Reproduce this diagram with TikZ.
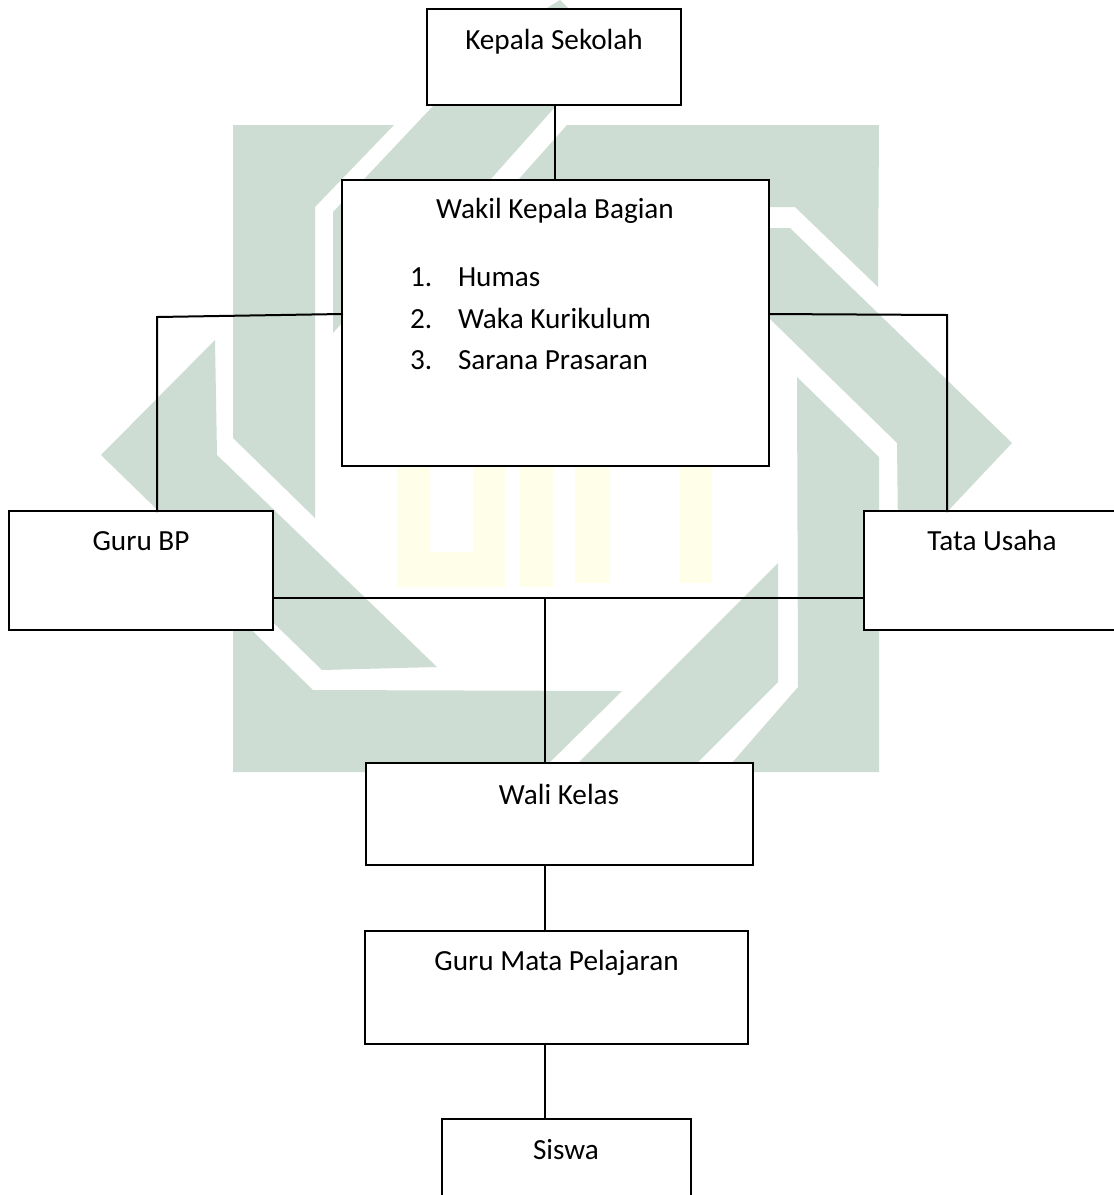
\documentclass[tikz,border=0pt]{standalone}
\usepackage{fontspec}
\setmainfont{Carlito}
\definecolor{wm}{HTML}{CDDDD4}
\definecolor{wmy}{HTML}{FFFEE8}
\tikzset{
  boxnode/.style={draw=black,fill=white,line width=2pt,outer sep=0pt,inner sep=0pt,anchor=north west},
  lbl/.style={anchor=base,inner sep=0pt,outer sep=0pt,font=\fontsize{29.2}{32}\selectfont,text=black},
  lblw/.style={anchor=base west,inner sep=0pt,outer sep=0pt,font=\fontsize{29.2}{32}\selectfont,text=black},
  conn/.style={draw=black,line width=2pt,line cap=rect},
  mark green/.style={fill=wm,draw=none},
  mark yellow/.style={fill=wmy,draw=none}
}
\begin{document}
\begin{tikzpicture}[x=1pt,y=-1pt]
\useasboundingbox (0,0) rectangle (1114,1195);
\fill[white] (0,0) rectangle (1114,1195);
% watermark
\path[mark green] (233,125)--(394,125)--(315,207)--(315,518)--(233,438)--cycle;
\path[mark green] (560,0)--(580,20)--(555,107)--(490,180)--(490,323)--(342,323)--(333,333)--(333,212)--(433,106)--(547,8)--cycle;
\path[mark green] (567,125)--(879,125)--(878,287)--(795,207)--(769,207)--(769,180)--(518,180)--cycle;
\path[mark green] (700,228)--(790,228)--(1012,443)--(930,530)--(898,530)--(897,443)--(769,318)--(700,318)--cycle;
\path[mark green] (797,377)--(879,457)--(879,772)--(724,772)--(798,687)--cycle;
\path[mark green] (778,563)--(778,682)--(688,772)--(569,772)--cycle;
\path[mark green] (101,455)--(215,340)--(217,455)--(437,667)--(322,670)--cycle;
\path[mark green] (233,612)--(313,690)--(622,691)--(540,772)--(233,772)--cycle;
\path[mark yellow] (397,466)--(430,466)--(430,552)--(473,552)--(473,466)--(505,466)--(505,587)--(397,587)--cycle;
\path[mark yellow] (520,466) rectangle (553,587);
\path[mark yellow] (575,466) rectangle (610,583);
\path[mark yellow] (680,466) rectangle (712,583);
% boxes
\node[boxnode,minimum width=254pt,minimum height=96pt] (kepala) at (427,9) {};
\node[boxnode,minimum width=427pt,minimum height=286pt] (wakil) at (342,180) {};
\node[boxnode,minimum width=264pt,minimum height=119pt] (guru) at (9,511) {};
\node[boxnode,minimum width=256pt,minimum height=119pt] (tata) at (864,511) {};
\node[boxnode,minimum width=387pt,minimum height=102pt] (wali) at (366,763) {};
\node[boxnode,minimum width=383pt,minimum height=113pt] (mata) at (365,931) {};
\node[boxnode,minimum width=249pt,minimum height=100pt] (siswa) at (442,1119) {};
% helper points
\coordinate (ktrunk) at (555,105);
\coordinate (lsplit) at (342,314);
\coordinate (lbend) at (157,317);
\coordinate (rsplit) at (769,314);
\coordinate (rbend) at (947,315);
\coordinate (bus) at (545,598);
% connectors
\draw[conn] (ktrunk |- kepala.south) -- (ktrunk |- wakil.north);
\draw[conn] (lsplit) -- (lbend) -- (lbend |- guru.north);
\draw[conn] (rsplit) -- (rbend) -- (rbend |- tata.north);
\draw[conn] (guru.east |- bus) -- (tata.west |- bus);
\draw[conn] (bus) -- (bus |- wali.north);
\draw[conn] (bus |- wali.south) -- (bus |- mata.north);
\draw[conn] (bus |- mata.south) -- (bus |- siswa.north);
% text
\node[lbl] (tk) at (554,49) {Kepala Sekolah};
\node[lbl] (tw) at (555,218) {Wakil Kepala Bagian};
\node[lblw] (n1) at (410,286) {1.};
\node[lblw] (t1) at (458,286) {Humas};
\node[lblw] (n2) at (410,328) {2.};
\node[lblw] (t2) at (458,328) {Waka Kurikulum};
\node[lblw] (n3) at (410,369) {3.};
\node[lblw] (t3) at (458,369) {Sarana Prasaran};
\node[lbl] (tg) at (141,550) {Guru BP};
\node[lbl] (tt) at (992,550) {Tata Usaha};
\node[lbl] (tl) at (559,804) {Wali Kelas};
\node[lbl] (tm) at (556.5,970) {Guru Mata Pelajaran};
\node[lbl] (ts) at (566,1159) {Siswa};
\end{tikzpicture}
\end{document}
